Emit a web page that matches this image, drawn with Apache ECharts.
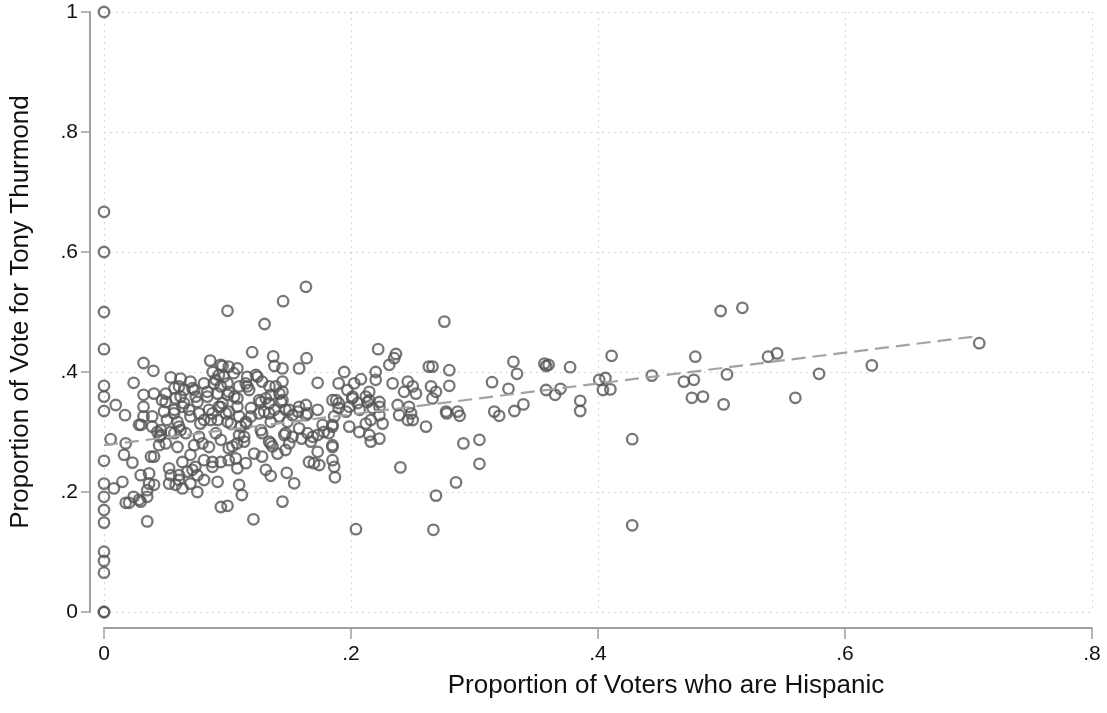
<!DOCTYPE html>
<html>
<head>
<meta charset="utf-8">
<script src="https://cdn.jsdelivr.net/npm/echarts@6/dist/echarts.min.js"></script>
<style>
html,body{margin:0;padding:0;background:#fff;}
#chart{width:1107px;height:713px;}
</style>
</head>
<body>
<div id="chart"></div>
<script>
// ---- Data (proportion Hispanic, proportion vote for Thurmond) ----
const xTicks = [0, 0.2, 0.4, 0.6, 0.8];
const xTickLabels = ['0', '.2', '.4', '.6', '.8'];
const yTicks = [0, 0.2, 0.4, 0.6, 0.8, 1];
const yTickLabels = ['0', '.2', '.4', '.6', '.8', '1'];

// precincts with zero Hispanic voters (x = 0): vote shares
const zeroHispanicVotes = [1.0, 0.667, 0.60, 0.50, 0.438, 0.377, 0.359, 0.335, 0.252, 0.214, 0.192, 0.17, 0.149, 0.1005, 0.085, 0.0655, 0, 0];

const lowHispanic = [
  [0.0054,0.288],[0.0095,0.345],[0.017,0.328],[0.0176,0.281],[0.0162,0.262],[0.023,0.249],[0.008,0.206],[0.0149,0.217],
  [0.0176,0.182],[0.0203,0.182],[0.024,0.192],[0.0284,0.187],[0.0297,0.184],[0.0297,0.228],[0.024,0.382],[0.0284,0.312],
  [0.032,0.415],[0.040,0.402],[0.035,0.192],[0.035,0.203],[0.0365,0.214],[0.0405,0.212],[0.0365,0.231],[0.035,0.151],
  [0.038,0.259],[0.0405,0.259],[0.0446,0.278],[0.05,0.281],[0.046,0.295],[0.057,0.298],[0.0527,0.2395],[0.054,0.228],
  [0.0527,0.214],[0.058,0.212],[0.0608,0.228],[0.0635,0.25],[0.0635,0.206],[0.0595,0.275],[0.0608,0.22]
];

const denseCluster = [
  [0.054,0.391],[0.062,0.389],[0.070,0.384],[0.086,0.419],[0.088,0.40],[0.093,0.395],[0.032,0.362],[0.0405,0.364],
  [0.032,0.342],[0.032,0.326],[0.030,0.312],[0.039,0.326],[0.039,0.309],[0.047,0.353],[0.0486,0.334],[0.057,0.373],
  [0.058,0.356],[0.065,0.37],[0.0635,0.342],[0.057,0.337],[0.073,0.37],[0.0756,0.35],[0.070,0.326],[0.081,0.381],
  [0.0837,0.359],[0.085,0.337],[0.089,0.381],[0.092,0.364],[0.093,0.342],[0.051,0.32],[0.0595,0.317],[0.046,0.303],
  [0.054,0.30],[0.062,0.303],[0.078,0.314],[0.0865,0.32],[0.045,0.292],
  [0.05,0.364],[0.05,0.35],[0.0608,0.376],[0.062,0.359],[0.0648,0.348],[0.0716,0.373],[0.0743,0.359],[0.0689,0.337],
  [0.0567,0.331],[0.0432,0.30],[0.0608,0.309],[0.0662,0.298],[0.0837,0.367],[0.077,0.331],[0.081,0.32],[0.0905,0.387],
  [0.0959,0.348],[0.0878,0.331],[0.1,0.381],[0.101,0.367],[0.1054,0.359],[0.108,0.342],[0.0986,0.331],[0.1,0.317],
  [0.1094,0.326],[0.1108,0.309],[0.1148,0.381],[0.1175,0.37],[0.119,0.34],[0.1243,0.392],[0.128,0.384],[0.1256,0.353],
  [0.131,0.356],[0.1337,0.348],[0.1256,0.331],[0.1337,0.331],[0.139,0.376],[0.142,0.364],[0.1432,0.35],[0.15,0.337],
  [0.1526,0.328],[0.158,0.342],[0.1648,0.331],[0.173,0.337],[0.185,0.353],[0.2013,0.359],[0.2053,0.348],[0.196,0.334],
  [0.2148,0.353],[0.2175,0.34],[0.1986,0.309],[0.2067,0.30],[0.216,0.32],[0.177,0.312],[0.178,0.30],[0.147,0.298],
  [0.1526,0.292],[0.1648,0.298],[0.1094,0.295],[0.1135,0.292],[0.0905,0.298],[0.077,0.292],
  [0.0945,0.412],[0.101,0.409],[0.108,0.406],[0.097,0.392],[0.105,0.398],[0.116,0.392],[0.123,0.395],[0.134,0.376],
  [0.1445,0.384],[0.1445,0.367],[0.1445,0.353],[0.135,0.362],[0.127,0.35],[0.119,0.326],[0.1297,0.334],[0.138,0.337],
  [0.147,0.337],[0.157,0.334],[0.1635,0.345],[0.1635,0.328],[0.19,0.348],[0.185,0.312],[0.1486,0.317],[0.158,0.306],
  [0.135,0.317],[0.127,0.303],[0.1149,0.317],[0.1027,0.314],[0.0945,0.376],[0.10,0.362],[0.108,0.356],[0.0945,0.342],
  [0.101,0.334],[0.092,0.32],[0.1094,0.376],[0.116,0.376],[0.173,0.295],[0.182,0.298],[0.19,0.381]
];

const lowerCluster = [
  [0.0675,0.234],[0.070,0.214],[0.074,0.242],[0.0756,0.228],[0.081,0.22],[0.0756,0.2],[0.073,0.278],[0.070,0.262],
  [0.0797,0.281],[0.085,0.275],[0.081,0.253],[0.0878,0.25],[0.092,0.217],[0.0946,0.175],[0.0716,0.237],[0.0878,0.242],
  [0.1,0.177],[0.1094,0.212],[0.1116,0.195],[0.131,0.237],[0.135,0.227],[0.1445,0.184],[0.148,0.232],[0.154,0.2145],
  [0.166,0.25],[0.17,0.248],[0.1743,0.245],[0.173,0.267],[0.185,0.253],[0.1864,0.242],[0.187,0.2245],[0.185,0.278],
  [0.216,0.284],[0.16,0.289],[0.169,0.292],[0.185,0.309],[0.15,0.281],[0.147,0.27],[0.142,0.326],[0.128,0.298],
  [0.115,0.314],[0.1337,0.284],[0.1364,0.276],[0.1405,0.264],[0.104,0.276],[0.1067,0.256],[0.108,0.2395],
  [0.0946,0.287],[0.101,0.273],[0.1077,0.281],[0.1135,0.284],[0.0946,0.25],[0.101,0.253],[0.1148,0.248],[0.1216,0.264],
  [0.128,0.259],[0.135,0.281],[0.146,0.295],[0.121,0.1545],[0.1675,0.284]
];

const upperOutliers = [
  [0.100,0.502],[0.130,0.48],[0.145,0.518],[0.1635,0.542],[0.120,0.433],[0.137,0.426],[0.138,0.41],[0.1445,0.406],
  [0.164,0.423],[0.158,0.406],[0.173,0.382],[0.1945,0.40],[0.208,0.388],[0.222,0.438],[0.096,0.41],[0.204,0.138]
];

const midHispanic = [
  [0.2364,0.43],[0.235,0.423],[0.231,0.412],[0.220,0.40],[0.220,0.387],[0.263,0.409],[0.266,0.409],[0.2026,0.381],
  [0.197,0.37],[0.2337,0.381],[0.246,0.384],[0.25,0.376],[0.2526,0.364],[0.243,0.367],[0.2648,0.376],[0.2688,0.367],
  [0.266,0.356],[0.2148,0.367],[0.212,0.359],[0.201,0.356],[0.188,0.353],[0.19,0.34],[0.1864,0.326],[0.1986,0.342],
  [0.207,0.337],[0.2134,0.35],[0.223,0.35],[0.223,0.342],[0.2378,0.345],[0.247,0.342],[0.2486,0.331],[0.239,0.328],
  [0.223,0.328],[0.2256,0.314],[0.246,0.32],[0.25,0.32],[0.277,0.334],[0.212,0.314],[0.2148,0.295],[0.223,0.289],
  [0.2607,0.309],[0.185,0.275]
];

const highHispanic = [
  [0.2756,0.484],[0.2796,0.403],[0.2796,0.377],[0.2775,0.331],[0.2864,0.334],[0.288,0.327],[0.291,0.281],[0.304,0.287],
  [0.304,0.247],[0.285,0.216],[0.2688,0.194],[0.24,0.241],[0.2667,0.137],[0.3142,0.383],[0.3275,0.372],[0.3315,0.417],
  [0.3344,0.397],[0.316,0.334],[0.320,0.327],[0.3323,0.335],[0.3396,0.346],[0.3566,0.414],[0.358,0.41],[0.360,0.412],
  [0.358,0.37],[0.3653,0.362],[0.3696,0.372],[0.3774,0.408],[0.3856,0.352],[0.3856,0.335],[0.401,0.387],[0.406,0.39],
  [0.404,0.37],[0.41,0.371],[0.411,0.427],[0.4277,0.288],[0.4277,0.1445],[0.4436,0.394],[0.4695,0.384],[0.4776,0.387],
  [0.4788,0.4255],[0.476,0.357],[0.485,0.359],[0.4993,0.5017],[0.5169,0.507],[0.5044,0.396],[0.5017,0.346],[0.5377,0.4255],
  [0.545,0.431],[0.5598,0.357],[0.579,0.397],[0.6217,0.411],[0.7087,0.448]
];

// linear fit
const fitIntercept = 0.278;
const fitSlope = 0.257;

// ---- Build ----
const points = zeroHispanicVotes.map(v => [0, v])
  .concat(lowHispanic, denseCluster, lowerCluster, upperOutliers, midHispanic, highHispanic);
const xs = points.map(p => p[0]);
const fitX0 = Math.min(...xs), fitX1 = Math.max(...xs);
const fitLine = [[fitX0, fitIntercept + fitSlope * fitX0], [fitX1, fitIntercept + fitSlope * fitX1]];

const FONT = '"Liberation Sans", Arial, Helvetica, sans-serif';
const labelFor = (ticks, labels) => v => {
  const i = ticks.findIndex(t => Math.abs(t - v) < 1e-9);
  return i >= 0 ? labels[i] : '';
};

const chart = echarts.init(document.getElementById('chart'), null, {renderer: 'canvas'});
chart.setOption({
  animation: false,
  backgroundColor: '#ffffff',
  grid: {left: 103, right: 15, top: 12, bottom: 101, containLabel: false},
  xAxis: {
    type: 'value', min: 0, max: 0.8, interval: 0.2, offset: 16,
    name: 'Proportion of Voters who are Hispanic',
    nameLocation: 'middle', nameGap: 45,
    nameTextStyle: {fontFamily: FONT, fontSize: 26, color: '#111', padding: [0, 0, 0, 136]},
    axisLine: {show: true, onZero: false, lineStyle: {color: '#a0a0a0', width: 2}},
    axisTick: {show: true, length: 11, lineStyle: {color: '#a0a0a0', width: 1.5}},
    axisLabel: {fontFamily: FONT, fontSize: 21, color: '#111', margin: 16, formatter: labelFor(xTicks, xTickLabels)},
    splitLine: {show: true, lineStyle: {color: '#c8c8c8', width: 1, type: [1.5, 4.5]}}
  },
  yAxis: {
    type: 'value', min: 0, max: 1, interval: 0.2, offset: 14,
    name: 'Proportion of Vote for Tony Thurmond',
    nameLocation: 'middle', nameGap: 56, nameRotate: 90,
    nameTextStyle: {fontFamily: FONT, fontSize: 26, color: '#111'},
    axisLine: {show: true, onZero: false, lineStyle: {color: '#a0a0a0', width: 2}},
    axisTick: {show: true, length: 9, lineStyle: {color: '#a0a0a0', width: 1.5}},
    axisLabel: {fontFamily: FONT, fontSize: 21, color: '#111', margin: 12, formatter: labelFor(yTicks, yTickLabels)},
    splitLine: {show: true, lineStyle: {color: '#c8c8c8', width: 1, type: [1.5, 4.5]}}
  },
  series: [
    {
      type: 'scatter', data: points, symbol: 'circle', symbolSize: 10.5, clip: false,
      itemStyle: {color: 'rgba(0,0,0,0)', borderColor: '#555555', borderWidth: 2.3},
      emphasis: {disabled: true}, z: 2
    },
    {
      type: 'line', data: fitLine, symbol: 'none', clip: false,
      lineStyle: {color: '#a3a3a3', width: 2.2, type: [14, 7]},
      emphasis: {disabled: true}, z: 3
    }
  ]
});
</script>
</body>
</html>
